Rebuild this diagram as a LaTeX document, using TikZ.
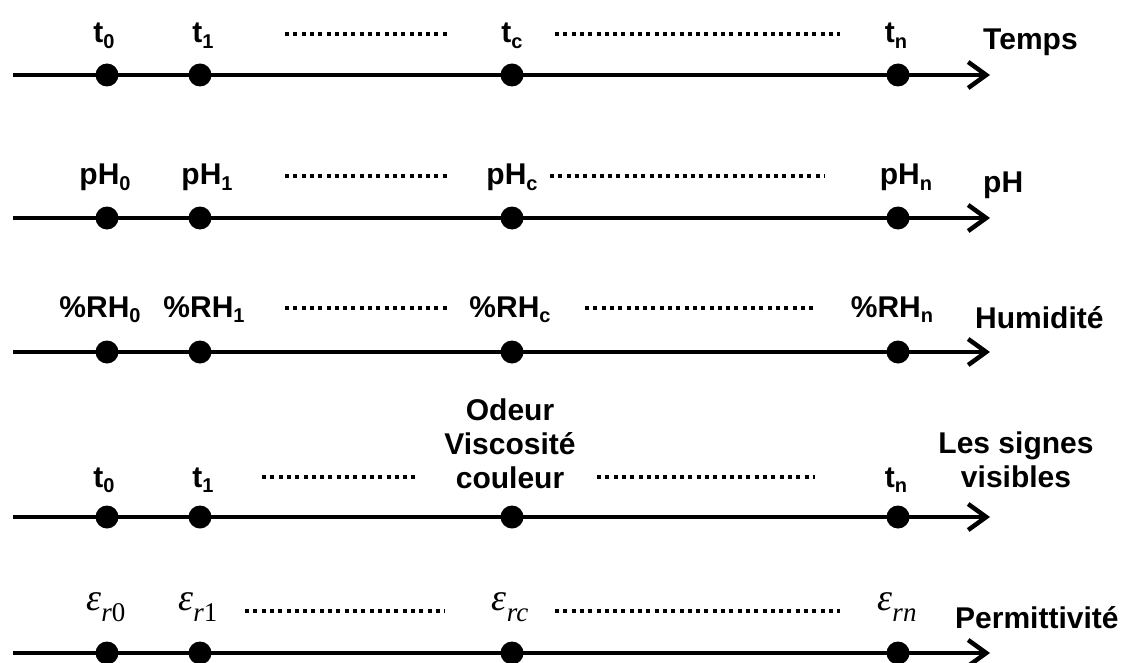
\documentclass[tikz,border=0pt]{standalone}
\usepackage[no-math]{fontspec}
\setmainfont{Liberation Sans}
\newfontfamily\serifm{Liberation Serif}
\usetikzlibrary{arrows.meta, positioning}
\newcommand{\indice}[1]{\raisebox{-0.18em}{\fontsize{20}{20}\selectfont #1}}
\newcommand{\indeps}[1]{\raisebox{-11pt}{\fontsize{27}{27}\selectfont\itshape r\upshape#1}}

\begin{document}
\begin{tikzpicture}[x=1pt, y=-1pt,
    axe/.style={line width=4.5pt, -{Straight Barb[length=18pt, width=26pt, line width=4.5pt]}},
    jalon/.style={circle, fill=black, inner sep=0pt, minimum size=23pt},
    etiq/.style={font=\bfseries\fontsize{30}{34}\selectfont, inner sep=0pt, anchor=base},
    titre/.style={etiq, anchor=base west},
    pointille/.style={line width=4pt, dash pattern=on 4pt off 4.3pt},
    epsi/.style={font=\serifm\fontsize{38}{40}\selectfont, inner sep=0pt, anchor=base}]
  \useasboundingbox (0,0) rectangle (1123,663);

  % les cinq axes avec leurs jalons
  \foreach \r/\y in {1/75, 2/218, 3/352, 4/517, 5/653}{
    \coordinate (deb\r) at (13,\y);
    \coordinate (fin\r) at (990,\y);
    \draw[axe] (deb\r) -- (fin\r);
    \foreach \k/\x in {0/107, 1/200, c/512, n/898}
      \node[jalon] (p\r\k) at (\x,\y) {};
  }

  % Temps
  \node[etiq] (l10) at (104,43) {t\indice{0}};
  \node[etiq] (l11) at (203,43) {t\indice{1}};
  \node[etiq] (l1c) at (512,43) {t\indice{c}};
  \node[etiq] (l1n) at (896,43) {t\indice{n}};
  \node[titre] (temps) at (983,50) {Temps};
  \coordinate (a1) at (285,34); \coordinate (b1) at (447,34);
  \coordinate (c1) at (555,34); \coordinate (d1) at (840,34);
  \draw[pointille] (a1) -- (b1);
  \draw[pointille] (c1) -- (d1);

  % pH
  \node[etiq] (l20) at (105,185) {pH\indice{0}};
  \node[etiq] (l21) at (207,185) {pH\indice{1}};
  \node[etiq] (l2c) at (512,185) {pH\indice{c}};
  \node[etiq] (l2n) at (906,185) {pH\indice{n}};
  \node[titre] (ph) at (983,193) {pH};
  \coordinate (a2) at (285,176); \coordinate (b2) at (447,176);
  \coordinate (c2) at (550,176); \coordinate (d2) at (825,176);
  \draw[pointille] (a2) -- (b2);
  \draw[pointille] (c2) -- (d2);

  % Humidite
  \node[etiq] (l30) at (100,317) {\%RH\indice{0}};
  \node[etiq] (l31) at (204,317) {\%RH\indice{1}};
  \node[etiq] (l3c) at (510,317) {\%RH\indice{c}};
  \node[etiq] (l3n) at (892,317) {\%RH\indice{n}};
  \node[titre] (humid) at (975,328) {Humidité};
  \coordinate (a3) at (285,308); \coordinate (b3) at (447,308);
  \coordinate (c3) at (585,308); \coordinate (d3) at (815,308);
  \draw[pointille] (a3) -- (b3);
  \draw[pointille] (c3) -- (d3);

  % signes visibles
  \node[etiq] (l40) at (104,487) {t\indice{0}};
  \node[etiq] (l41) at (203,487) {t\indice{1}};
  \node[etiq, align=center] (l4c) at (510,488) {Odeur\\Viscosité\\couleur};
  \node[etiq] (l4n) at (896,487) {t\indice{n}};
  \node[etiq, align=center] (signes) at (1016,487) {Les signes\\visibles};
  \coordinate (a4) at (262,477); \coordinate (b4) at (418,477);
  \coordinate (c4) at (597,477); \coordinate (d4) at (815,477);
  \draw[pointille] (a4) -- (b4);
  \draw[pointille] (c4) -- (d4);

  % Permittivite
  \node[epsi] (l50) at (106,610) {\textit{ε}\indeps{0}};
  \node[epsi] (l51) at (198,610) {\textit{ε}\indeps{1}};
  \node[epsi] (l5c) at (510,610) {\textit{ε}\indeps{\itshape c}};
  \node[epsi] (l5n) at (897,610) {\textit{ε}\indeps{\itshape n}};
  \node[titre] (permit) at (955,628) {Permittivité};
  \coordinate (a5) at (245,611); \coordinate (b5) at (445,611);
  \coordinate (c5) at (555,611); \coordinate (d5) at (840,611);
  \draw[pointille] (a5) -- (b5);
  \draw[pointille] (c5) -- (d5);
\end{tikzpicture}
\end{document}
